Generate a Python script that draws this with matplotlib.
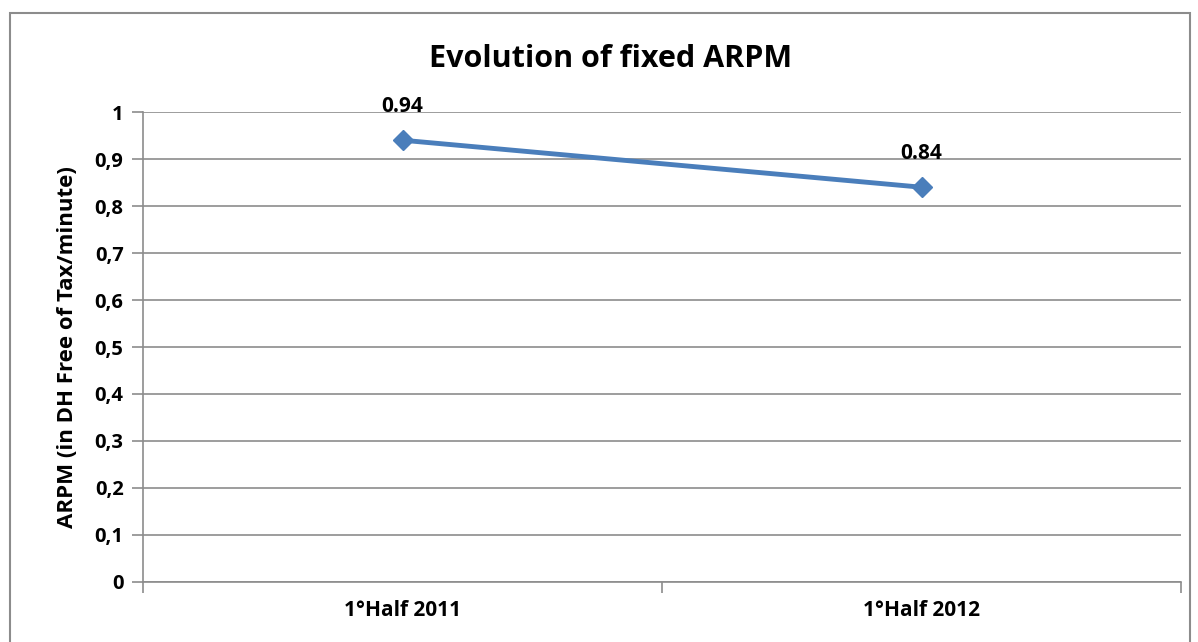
import matplotlib.pyplot as plt
from matplotlib.patches import Rectangle

# Datos
periodos = ['1°Half 2011', '1°Half 2012']
arpm = [0.94, 0.84]
etiquetas = ['0.94', '0.84']

plt.rcParams['font.family'] = ['Open Sans', 'DejaVu Sans']
plt.rcParams['font.weight'] = 'bold'

fig = plt.figure(figsize=(11.98, 6.42), dpi=100)
ax = fig.add_axes([0.1194, 0.0935, 0.8664, 0.732])

# Marco exterior del gráfico
fig.patches.append(Rectangle((10 / 1198, -0.05), 1180 / 1198, 1 - 13 / 642 + 0.05,
                             transform=fig.transFigure, fill=False,
                             edgecolor='#8c8c8c', linewidth=1.5))

x = [i + 0.5 for i in range(len(periodos))]
ax.plot(x, arpm, color='#4a7ebb', linewidth=3.5, marker='D', markersize=10, zorder=3)
for xi, yi, t in zip(x, arpm, etiquetas):
    ax.annotate(t, (xi, yi), xytext=(0, 17), textcoords='offset points',
                ha='center', va='bottom', fontsize=15, fontweight='bold')

ax.set_xlim(0, len(periodos))
ax.set_ylim(0, 1)
ax.set_yticks([i / 10 for i in range(11)])
ax.set_yticklabels(['0'] + ['0,%d' % i for i in range(1, 10)] + ['1'],
                   fontsize=14.5, fontweight='bold')
ax.set_xticks(range(len(periodos) + 1))
ax.set_xticklabels([])
ax.set_xticks(x, minor=True)
ax.set_xticklabels(periodos, minor=True, fontsize=15, fontweight='bold')
ax.tick_params(axis='x', which='minor', length=0, pad=13)
ax.tick_params(axis='y', pad=6)
ax.tick_params(axis='both', which='major', color='#8c8c8c', length=8, width=1.2)

ax.grid(True, axis='y', color='#8c8c8c', linewidth=1.2)
for s in ['top', 'right']:
    ax.spines[s].set_visible(False)
for s in ['left', 'bottom']:
    ax.spines[s].set_color('#8c8c8c')
    ax.spines[s].set_linewidth(1.2)
ax.set_axisbelow(True)

ax.set_ylabel('ARPM (in DH Free of Tax/minute)', fontsize=16, fontweight='bold', labelpad=12)
fig.text(0.51, 0.908, 'Evolution of fixed ARPM', ha='center', va='center',
         fontsize=22, fontweight='bold')

plt.savefig('out.png', dpi=100)
